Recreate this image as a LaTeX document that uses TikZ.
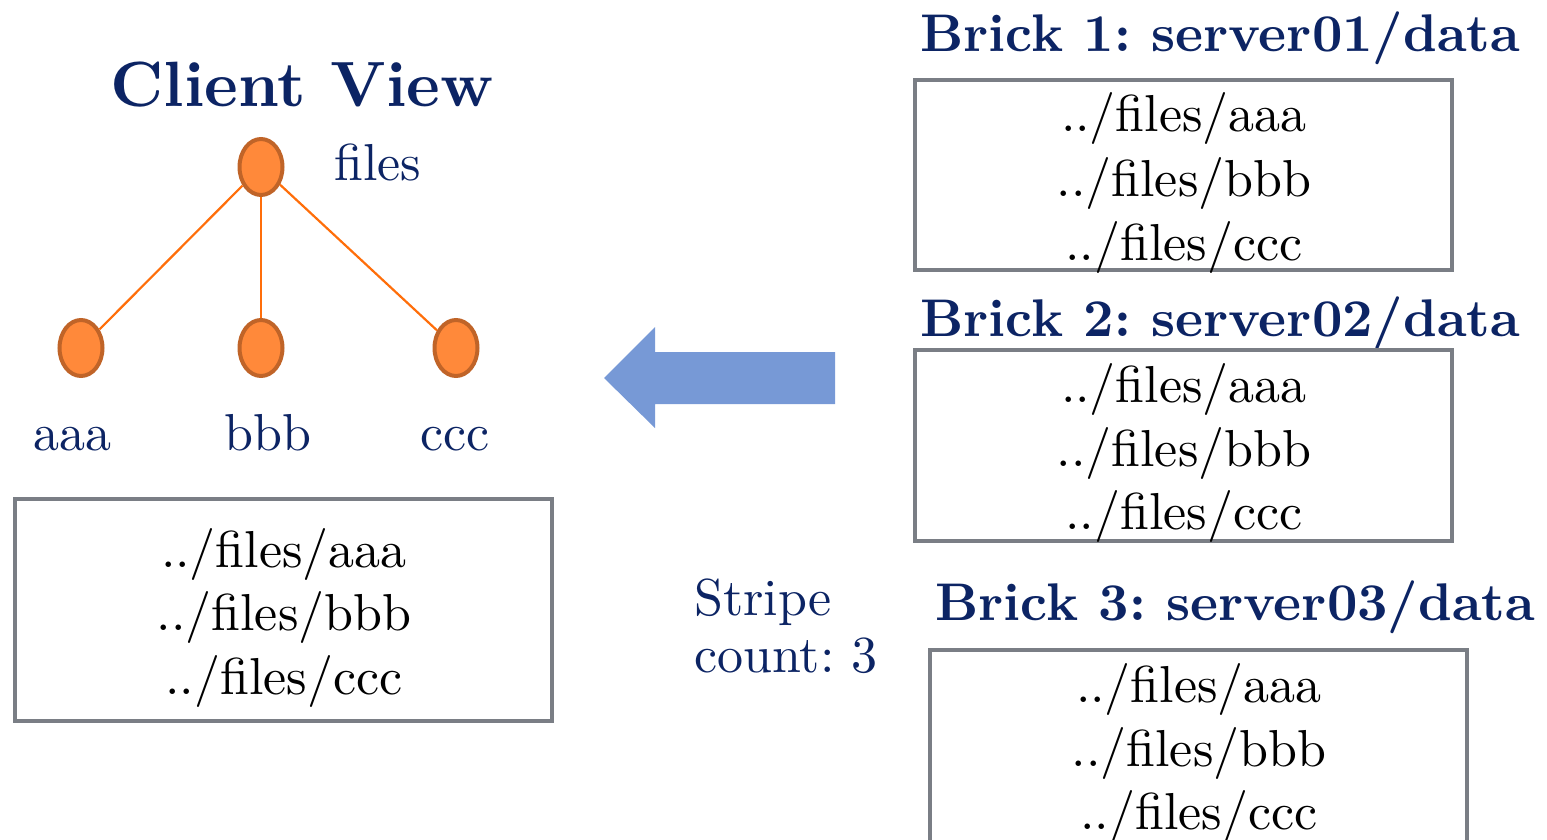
\documentclass[tikz,border=0pt]{standalone}
\usepackage{fontspec}
% use the 10pt design at every size for a heavier, wider text face
\setmainfont{lmroman10}[Extension=.otf, UprightFont=*-regular, BoldFont=*-bold,
  ItalicFont=*-italic, BoldItalicFont=*-bolditalic]
\frenchspacing
\usetikzlibrary{shapes.geometric}
\definecolor{navy}{RGB}{12,36,100}
\definecolor{nodefill}{RGB}{255,137,58}
\definecolor{nodeedge}{RGB}{192,100,40}
\definecolor{branch}{RGB}{255,110,10}
\definecolor{boxgray}{RGB}{122,126,133}
\definecolor{arrowblue}{RGB}{119,153,214}
\begin{document}
\begin{tikzpicture}[x=0.5pt,y=-0.5pt,
  treenode/.style={ellipse, draw=nodeedge, fill=nodefill, line width=2pt,
    minimum width=21.5pt, minimum height=28pt, inner sep=0pt},
  branchline/.style={draw=branch, line width=1.1pt},
  listbox/.style={draw=boxgray, line width=2pt, rectangle, inner sep=0pt,
    minimum width=268.5pt},
  pathline/.style={anchor=base, inner sep=0pt, text=black,
    font=\fontsize{26}{32}\selectfont},
  label/.style={anchor=base, inner sep=0pt, text=navy,
    font=\fontsize{26}{32}\selectfont},
  heading/.style={anchor=base west, inner sep=0pt, text=navy,
    font=\bfseries\fontsize{26.5}{32}\selectfont},
]
\useasboundingbox (0,0) rectangle (1547,840);
\clip (0,0) rectangle (1547,840);

% client-side tree
\node[anchor=base, inner sep=0pt, text=navy, font=\bfseries\fontsize{32}{38}\selectfont]
  (title) at (302,107) {Client View};
\node[treenode] (root) at (261,167) {};
\node[treenode] (na) at (81,348) {};
\node[treenode] (nb) at (261,348) {};
\node[treenode] (nc) at (456,348) {};
\draw[branchline] (root) -- (na);
\draw[branchline] (root) -- (nb);
\draw[branchline] (root) -- (nc);
\node[label] (lroot) at (378,180) {files};
\node[label] (la) at (72,450) {aaa};
\node[label] (lb) at (268,450) {bbb};
\node[label] (lc) at (455,450) {ccc};

% merged listing seen by the client
\node[listbox, minimum height=111pt] (cbox) at (283.5,610) {};
\node[pathline] (c1) at (284,567) {../files/aaa};
\node[pathline] (c2) at (284,630) {../files/bbb};
\node[pathline] (c3) at (284,694) {../files/ccc};

% block arrow from bricks to client
\fill[arrowblue] (835,352) -- (655,352) -- (655,327) -- (604,378)
  -- (655,428) -- (655,404) -- (835,404) -- cycle;

% stripe count note
\node[label, anchor=base west] (s1) at (694,615) {Stripe};
\node[label, anchor=base west] (s2) at (694,672) {count: 3};

% brick 1
\node[heading] (h1) at (920,52) {Brick 1: server01/data};
\node[listbox, minimum height=95pt] (b1) at (1183.5,175) {};
\node[pathline] (b1a) at (1184,132) {../files/aaa};
\node[pathline] (b1b) at (1184,196) {../files/bbb};
\node[pathline] (b1c) at (1184,260) {../files/ccc};

% brick 2
\node[heading] (h2) at (920,336) {Brick 2: server02/data};
\node[listbox, minimum height=95.5pt] (b2) at (1183.5,445.5) {};
\node[pathline] (b2a) at (1184,402) {../files/aaa};
\node[pathline] (b2b) at (1184,466) {../files/bbb};
\node[pathline] (b2c) at (1184,529) {../files/ccc};

% brick 3 (runs past the lower edge)
\node[heading] (h3) at (935,620) {Brick 3: server03/data};
\node[listbox, minimum height=115pt] (b3) at (1198.5,765) {};
\node[pathline] (b3a) at (1199,702) {../files/aaa};
\node[pathline] (b3b) at (1199,766) {../files/bbb};
\node[pathline] (b3c) at (1199,829) {../files/ccc};
\end{tikzpicture}
\end{document}
